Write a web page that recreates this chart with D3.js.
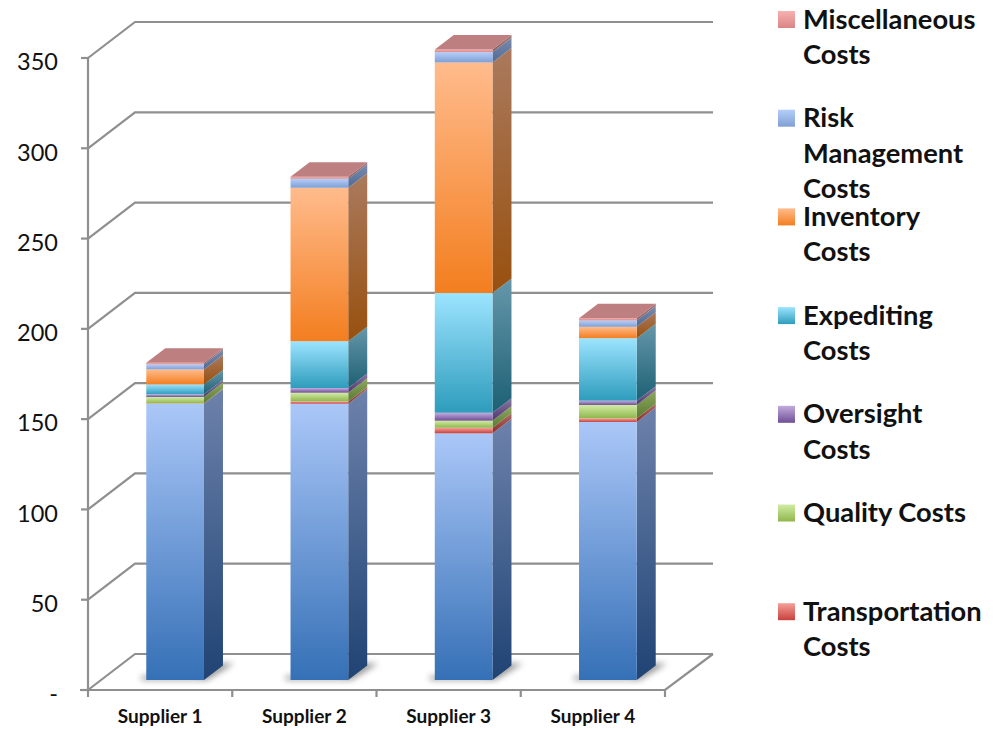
<!DOCTYPE html>
<html>
<head>
<meta charset="utf-8">
<script src="https://cdn.jsdelivr.net/npm/d3@7"></script>
<style>
  html, body { margin: 0; padding: 0; background: #fff; }
  svg { display: block; font-family: Lato, "Open Sans", sans-serif; }
  .axis path, .axis line { display: none; }
</style>
</head>
<body>
<svg id="chart" width="1003" height="730"></svg>
<script>
// Cost breakdown per supplier
const suppliers = ["Supplier 1", "Supplier 2", "Supplier 3", "Supplier 4"];
const seriesKeys = ["base", "transport", "quality", "oversight", "expediting", "inventory", "risk", "misc"];
const baseCosts = [153, 153, 136.6, 142.9];
const transportCosts = [0.2, 1.3, 3.1, 2];
const qualityCosts = [3.5, 4.8, 3.9, 7.4];
const oversightCosts = [1.5, 2.6, 4.4, 2.4];
const expeditingCosts = [5.5, 25.9, 66.3, 34.6];
const inventoryCosts = [8.3, 85, 127.7, 6.3];
const riskCosts = [2.8, 5, 5.7, 3.5];
const miscCosts = [0.9, 1.1, 1.5, 1.3];
const yTicks = [0, 50, 100, 150, 200, 250, 300, 350];

// Legend entries, top to bottom, one string per wrapped line
const legendKeys = ["misc", "risk", "inventory", "expediting", "oversight", "quality", "transport"];
const legendLines = [
  ["Miscellaneous", "Costs"],
  ["Risk", "Management", "Costs"],
  ["Inventory", "Costs"],
  ["Expediting", "Costs"],
  ["Oversight", "Costs"],
  ["Quality Costs"],
  ["Transportation", "Costs"]
];

// Face colours: front top/bottom, side top/bottom
const palette = {
  base:       ["#abc7f8", "#3570b6", "#6d82ab", "#1f4374"],
  transport:  ["#f5a09a", "#c8403c", "#b06a66", "#8a2f2c"],
  quality:    ["#d2eca4", "#8fb64c", "#8fa860", "#587a30"],
  oversight:  ["#c2abdd", "#6f4f96", "#8a78a2", "#4d3670"],
  expediting: ["#9ce4ff", "#2e9cbc", "#6697aa", "#1d6074"],
  inventory:  ["#ffbb8c", "#f37e1f", "#aa7a5e", "#98500e"],
  risk:       ["#b5cefb", "#7f9fd3", "#7c8cac", "#4f6a96"],
  misc:       ["#f8b0b0", "#da8585", "#a87878", "#8c5e5e"]
};
const topFace = "#bd7f7f";
const gridColor = "#8f8f8f";

const svg = d3.select("#chart");

// Plot box
const plotLeft = 88, plotRight = 665, plotBottom = 690, plotTop = 58;
const wallDx = 47, wallDy = 36;   // depth of the 3D box
const barInsetX = 15, barInsetY = 10; // bars stand this far inside the floor
const sideDx = 19, sideDy = 14.5;     // depth of each bar

const x = d3.scaleBand().domain(suppliers).range([plotLeft, plotRight])
  .paddingInner(0.6).paddingOuter(0.3);
const y = d3.scaleLinear().domain([0, 350]).range([plotBottom, plotTop]);

const rows = suppliers.map((name, i) => ({
  name,
  base: baseCosts[i], transport: transportCosts[i], quality: qualityCosts[i],
  oversight: oversightCosts[i], expediting: expeditingCosts[i],
  inventory: inventoryCosts[i], risk: riskCosts[i], misc: miscCosts[i]
}));
const stacked = d3.stack().keys(seriesKeys)(rows);

// Gradients and the floor-shadow blur
const defs = svg.append("defs");
function gradient(id, c0, c1) {
  const g = defs.append("linearGradient").attr("id", id)
    .attr("x1", 0).attr("y1", 0).attr("x2", 0).attr("y2", 1);
  g.append("stop").attr("offset", "0%").attr("stop-color", c0);
  g.append("stop").attr("offset", "100%").attr("stop-color", c1);
}
seriesKeys.forEach(k => {
  gradient("front-" + k, palette[k][0], palette[k][1]);
  gradient("side-" + k, palette[k][2], palette[k][3]);
});
defs.append("filter").attr("id", "soft")
  .attr("x", "-30%").attr("y", "-60%").attr("width", "160%").attr("height", "220%")
  .append("feGaussianBlur").attr("stdDeviation", 3.2);

// Walls and floor
const grid = svg.append("g").attr("fill", "none")
  .attr("stroke", gridColor).attr("stroke-width", 2.2);
const wallLine = d3.line();
yTicks.forEach(t => {
  const yy = y(t);
  grid.append("path").attr("d", wallLine([
    [plotLeft, yy], [plotLeft + wallDx, yy - wallDy], [plotRight + wallDx + 1, yy - wallDy]
  ]));
});
grid.append("path").attr("d", wallLine([[plotLeft, plotTop], [plotLeft, plotBottom]]));
grid.append("path").attr("d", wallLine([[plotLeft - 8, plotBottom], [plotRight, plotBottom], [plotRight + wallDx + 1, plotBottom - wallDy]]));
yTicks.forEach(t => {
  grid.append("path").attr("d", wallLine([[plotLeft - 7, y(t)], [plotLeft, y(t)]]));
});
d3.range(suppliers.length + 1).forEach(i => {
  const xx = plotLeft + i * x.step();
  grid.append("path").attr("d", wallLine([[xx, plotBottom], [xx, plotBottom + 7]]));
});

// Bars
const plot = svg.append("g");
const lift = barInsetY;
const floorY = y(0) - lift;

plot.selectAll("path.shadow").data(rows).join("path")
  .attr("class", "shadow")
  .attr("fill", "#777").attr("opacity", 0.8).attr("filter", "url(#soft)")
  .attr("d", d => {
    const x0 = x(d.name) + barInsetX, w = x.bandwidth();
    return wallLine([
      [x0 - 5, floorY], [x0 + w + 3, floorY],
      [x0 + w + sideDx + 11, floorY - sideDy - 2], [x0 + w + sideDx - 4, floorY - sideDy - 2],
      [x0 + w - 6, floorY - 4], [x0 - 5, floorY - 4]
    ]) + "Z";
  });

stacked.forEach(layer => {
  const key = layer.key;
  const g = plot.append("g").attr("class", "series-" + key);
  g.selectAll("path.side").data(layer).join("path")
    .attr("class", "side")
    .attr("fill", `url(#side-${key})`)
    .attr("d", d => {
      const xr = x(d.data.name) + barInsetX + x.bandwidth();
      const y0 = y(d[0]) - lift, y1 = y(d[1]) - lift;
      return wallLine([
        [xr, y0], [xr + sideDx, y0 - sideDy], [xr + sideDx, y1 - sideDy], [xr, y1]
      ]) + "Z";
    });
  g.selectAll("rect.front").data(layer).join("rect")
    .attr("class", "front")
    .attr("fill", `url(#front-${key})`)
    .attr("x", d => x(d.data.name) + barInsetX)
    .attr("width", x.bandwidth())
    .attr("y", d => y(d[1]) - lift)
    .attr("height", d => y(d[0]) - y(d[1]));
});

// Roof of each column
plot.selectAll("path.roof").data(stacked[stacked.length - 1]).join("path")
  .attr("class", "roof")
  .attr("fill", topFace)
  .attr("d", d => {
    const x0 = x(d.data.name) + barInsetX, w = x.bandwidth();
    const yy = y(d[1]) - lift;
    return wallLine([
      [x0, yy], [x0 + w, yy], [x0 + w + sideDx, yy - sideDy], [x0 + sideDx, yy - sideDy]
    ]) + "Z";
  });

// Axes
const yAxis = svg.append("g").attr("class", "axis")
  .attr("transform", `translate(${plotLeft},0)`)
  .call(d3.axisLeft(y).tickValues(yTicks).tickSize(0).tickPadding(30)
    .tickFormat(d => d === 0 ? "-" : d3.format("d")(d)))
  .attr("font-family", null);
yAxis.selectAll("text").attr("font-size", 23.5).attr("fill", "#111")
  .attr("dy", "0.5em");

const xAxis = svg.append("g").attr("class", "axis")
  .attr("transform", `translate(0,${plotBottom})`)
  .call(d3.axisBottom(x).tickSize(0).tickPadding(20))
  .attr("font-family", null);
xAxis.selectAll("text").attr("font-size", 19).attr("font-weight", 700).attr("fill", "#111");

// Legend
const legendStep = 98.7, legendTop = 11, lineHeight = 35.5;
const legend = svg.append("g").selectAll("g").data(legendKeys).join("g")
  .attr("transform", (d, i) => `translate(778,${legendTop + i * legendStep})`);
legend.append("rect").attr("width", 17).attr("height", 17)
  .attr("fill", d => `url(#front-${d})`);
legend.each(function (d, i) {
  const text = d3.select(this).append("text")
    .attr("font-size", 27.3).attr("font-weight", 700).attr("fill", "#111");
  legendLines[i].forEach((line, j) => {
    text.append("tspan").attr("x", 25).attr("y", 17.5 + j * lineHeight).text(line);
  });
});
</script>
</body>
</html>
